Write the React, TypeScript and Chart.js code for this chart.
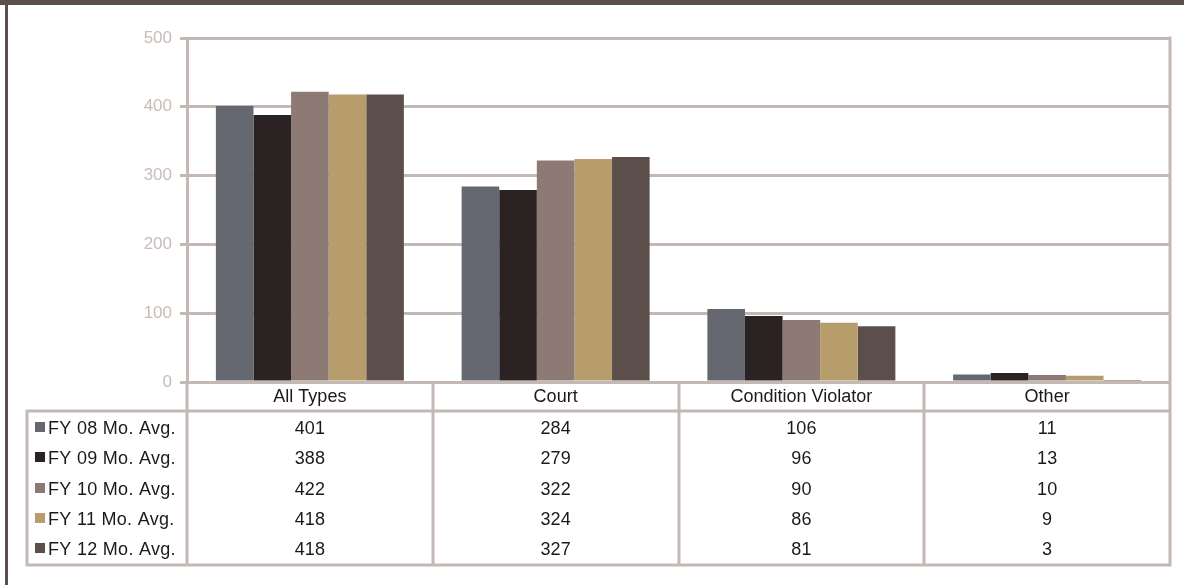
import React, { useEffect, useRef } from "react";
import { Chart, registerables } from "chart.js";

Chart.register(...registerables);

const categories = ["All Types", "Court", "Condition Violator", "Other"];
const seriesLabels = [
  "FY 08 Mo. Avg.",
  "FY 09 Mo. Avg.",
  "FY 10 Mo. Avg.",
  "FY 11 Mo. Avg.",
  "FY 12 Mo. Avg.",
];
const fy08 = [401, 284, 106, 11];
const fy09 = [388, 279, 96, 13];
const fy10 = [422, 322, 90, 10];
const fy11 = [418, 324, 86, 9];
const fy12 = [418, 327, 81, 3];
const seriesColors = ["#656870", "#2b2223", "#8e7a74", "#b79c6c", "#5c4f4b"];
const yTicks = [0, 100, 200, 300, 400, 500];

const LINE = "#c4b8b4";
const FONT = "Arial, 'Liberation Sans', sans-serif";

const tablePlugin = {
  id: "dataTable",
  beforeDraw(chart: any) {
    const ctx = chart.ctx;
    ctx.save();
    ctx.fillStyle = "#ffffff";
    ctx.fillRect(0, 0, chart.width, chart.height);
    ctx.fillStyle = "#5c4f4b";
    ctx.fillRect(0, 0, chart.width, 5);
    ctx.fillRect(5, 0, 3, chart.height);
    ctx.restore();
  },
  afterDraw(chart: any) {
    const ctx = chart.ctx;
    const area = chart.chartArea;
    const xs = chart.scales.x;
    const n = categories.length;
    const colW = (area.right - area.left) / n;
    const bottom = area.bottom;
    const headerBottom = bottom + 29;
    const tableBottom = bottom + 183;
    const legendLeft = 27;
    ctx.save();
    ctx.strokeStyle = LINE;
    ctx.lineWidth = 3;
    ctx.beginPath();
    ctx.moveTo(area.right, area.top - 1.5);
    ctx.lineTo(area.right, tableBottom + 1.5);
    for (let i = 0; i <= n; i++) {
      const x = Math.round(area.left + i * colW);
      ctx.moveTo(x, bottom);
      ctx.lineTo(x, tableBottom + 1.5);
    }
    ctx.moveTo(legendLeft - 1.5, headerBottom);
    ctx.lineTo(area.right, headerBottom);
    ctx.moveTo(legendLeft - 1.5, tableBottom);
    ctx.lineTo(area.right + 1.5, tableBottom);
    ctx.moveTo(legendLeft, headerBottom);
    ctx.lineTo(legendLeft, tableBottom);
    ctx.stroke();

    ctx.fillStyle = "#1a1a1a";
    ctx.font = `18px ${FONT}`;
    ctx.textBaseline = "middle";
    ctx.textAlign = "center";
    categories.forEach((c, i) => {
      const x = xs.getPixelForValue(i);
      ctx.fillText(c, x, bottom + 15);
    });
    const data = [fy08, fy09, fy10, fy11, fy12];
    data.forEach((row, r) => {
      const y = headerBottom + 18 + r * 30.3;
      ctx.textAlign = "center";
      ctx.fillStyle = "#1a1a1a";
      (ctx as any).letterSpacing = "0px";
      row.forEach((v, i) => {
        ctx.fillText(String(v), xs.getPixelForValue(i), y);
      });
      ctx.fillStyle = seriesColors[r];
      ctx.fillRect(35, Math.round(y - 7), 10, 10);
      ctx.fillStyle = "#1a1a1a";
      ctx.textAlign = "left";
      (ctx as any).letterSpacing = "0.3px";
      ctx.fillText(seriesLabels[r], 48, y);
    });
    ctx.restore();
  },
};

export default function App() {
  const ref = useRef<HTMLCanvasElement | null>(null);
  useEffect(() => {
    document.body.style.margin = "0";
    if (!ref.current) return;
    const datasets = [fy08, fy09, fy10, fy11, fy12].map((d, i) => ({
      label: seriesLabels[i],
      data: d,
      backgroundColor: seriesColors[i],
      borderWidth: 0,
      barPercentage: 1,
      categoryPercentage: 0.765,
    }));
    const chart = new Chart(ref.current, {
      type: "bar",
      data: { labels: categories, datasets },
      options: {
        animation: false,
        responsive: false,
        layout: { padding: { left: 137, right: 14, top: 38, bottom: 203 } },
        plugins: { legend: { display: false }, tooltip: { enabled: false } },
        scales: {
          x: { display: false },
          y: {
            min: 0,
            max: 500,
            afterFit: (s: any) => {
              s.width = 50;
            },
            afterBuildTicks: (s: any) => {
              s.ticks = yTicks.map((v) => ({ value: v }));
            },
            grid: { color: LINE, lineWidth: 3, tickLength: 7, drawTicks: true },
            border: { display: true, color: LINE, width: 3 },
            ticks: {
              color: "#c8bcb8",
              font: { size: 17, family: FONT },
              padding: 8,
            },
          },
        },
      },
      plugins: [tablePlugin],
    });
    return () => chart.destroy();
  }, []);
  return (
    <div style={{ width: 1184, height: 585 }}>
      <canvas ref={ref} width={1184} height={585} style={{ display: "block" }} />
    </div>
  );
}
